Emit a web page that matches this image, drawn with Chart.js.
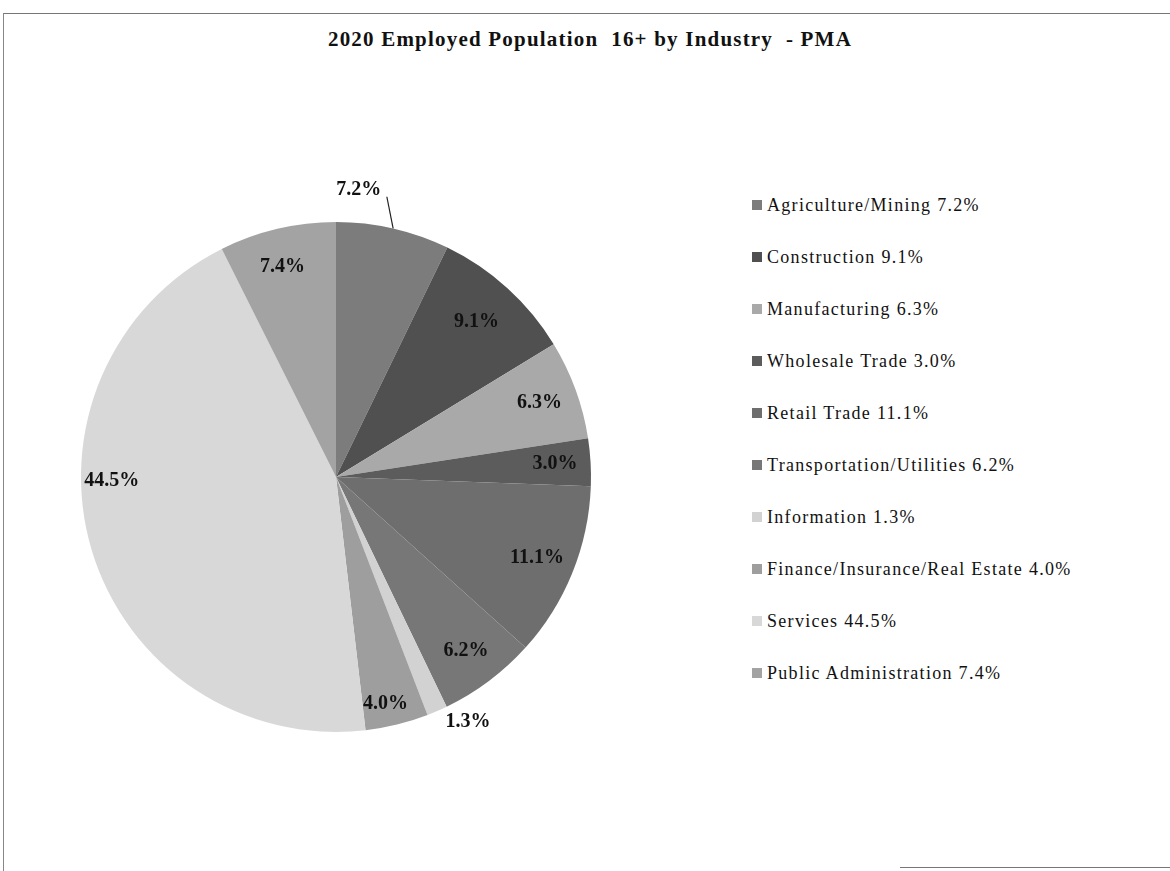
<!DOCTYPE html>
<html>
<head>
<meta charset="utf-8">
<script src="https://cdn.jsdelivr.net/npm/chart.js@4.4.1/dist/chart.umd.min.js"></script>
<style>
  body { margin: 0; background: #fff; }
  #page { position: relative; width: 1170px; height: 871px; overflow: hidden;
          font-family: "Liberation Serif", "Times New Roman", serif; color: #111; }
  #frame { position: absolute; left: 3px; top: 13px; width: 1200px; height: 900px;
           border-top: 1px solid #777; border-left: 1px solid #888; }
  #bottomLine { position: absolute; left: 900px; top: 867px; width: 270px; border-top: 1px solid #777; }
  #title { position: absolute; left: 0; width: 1180px; top: 27px; text-align: center;
           font-weight: bold; font-size: 21px; letter-spacing: 1.2px; white-space: pre; }
  #chartBox { position: absolute; left: 16px; top: 157px; width: 640px; height: 640px; }
  #legend { position: absolute; left: 752px; top: 195px; list-style: none; margin: 0; padding: 0; }
  #legend li { height: 52px; font-size: 18px; letter-spacing: 1.3px; white-space: nowrap; }
  #legend .box { display: inline-block; width: 10px; height: 10px; margin-right: 5px; vertical-align: 1px; }
</style>
</head>
<body>
<div id="page">
  <div id="frame"></div>
  <div id="bottomLine"></div>
  <div id="title">2020 Employed Population  16+ by Industry  - PMA</div>
  <div id="chartBox"><canvas id="pie"></canvas></div>
  <ul id="legend"></ul>
</div>
<script>
const industries = [
  'Agriculture/Mining', 'Construction', 'Manufacturing', 'Wholesale Trade', 'Retail Trade',
  'Transportation/Utilities', 'Information', 'Finance/Insurance/Real Estate', 'Services',
  'Public Administration'
];
const shares = [7.2, 9.1, 6.3, 3.0, 11.1, 6.2, 1.3, 4.0, 44.5, 7.4];
const shades = [
  '#7c7c7c', '#505050', '#a9a9a9', '#5c5c5c', '#6e6e6e',
  '#777777', '#d2d2d2', '#9e9e9e', '#d8d8d8', '#a3a3a3'
];

// label placement per slice: radius factor and angle shift (degrees)
const labelSpots = [
  { r: 1.13, a: -8.4, leader: true }, { r: 0.82, a: 0 }, { r: 0.85, a: 0 }, { r: 0.86, a: 0 },
  { r: 0.85, a: 0 }, { r: 0.85, a: 0 }, { r: 1.09, a: -5 }, { r: 0.91, a: 1.5 },
  { r: 0.88, a: 15.6 }, { r: 0.85, a: -1 }
];

const sliceLabels = {
  id: 'sliceLabels',
  afterDatasetsDraw(chart) {
    const ctx = chart.ctx;
    const meta = chart.getDatasetMeta(0);
    ctx.save();
    ctx.font = 'bold 20px "Liberation Serif"';
    ctx.fillStyle = '#111';
    ctx.textAlign = 'center';
    ctx.textBaseline = 'middle';
    meta.data.forEach((arc, i) => {
      const { x, y, startAngle, endAngle, outerRadius } =
        arc.getProps(['x', 'y', 'startAngle', 'endAngle', 'outerRadius'], true);
      const mid = (startAngle + endAngle) / 2;
      const spot = labelSpots[i];
      const ang = mid + spot.a * Math.PI / 180;
      const lx = x + Math.cos(ang) * outerRadius * spot.r;
      const ly = y + Math.sin(ang) * outerRadius * spot.r;
      if (spot.leader) {
        ctx.strokeStyle = '#222';
        ctx.lineWidth = 1.2;
        ctx.beginPath();
        ctx.moveTo(lx + 28, ly + 7);
        ctx.lineTo(x + Math.cos(mid) * outerRadius, y + Math.sin(mid) * outerRadius);
        ctx.stroke();
      }
      ctx.fillText(shares[i].toFixed(1) + '%', lx, ly);
    });
    ctx.restore();
  }
};

const chart = new Chart(document.getElementById('pie'), {
  type: 'pie',
  data: {
    labels: industries,
    datasets: [{
      data: shares,
      backgroundColor: shades,
      borderWidth: 0
    }]
  },
  options: {
    responsive: true,
    maintainAspectRatio: false,
    animation: false,
    layout: { padding: 65 },
    plugins: {
      legend: { display: false },
      tooltip: { enabled: false }
    }
  },
  plugins: [sliceLabels]
});

// legend built from the chart's own legend items
const legendEl = document.getElementById('legend');
chart.options.plugins.legend.labels.generateLabels(chart).forEach((item, i) => {
  const li = document.createElement('li');
  const box = document.createElement('span');
  box.className = 'box';
  box.style.background = item.fillStyle;
  li.appendChild(box);
  li.appendChild(document.createTextNode(item.text + ' ' + shares[i].toFixed(1) + '%'));
  legendEl.appendChild(li);
});
</script>
</body>
</html>
